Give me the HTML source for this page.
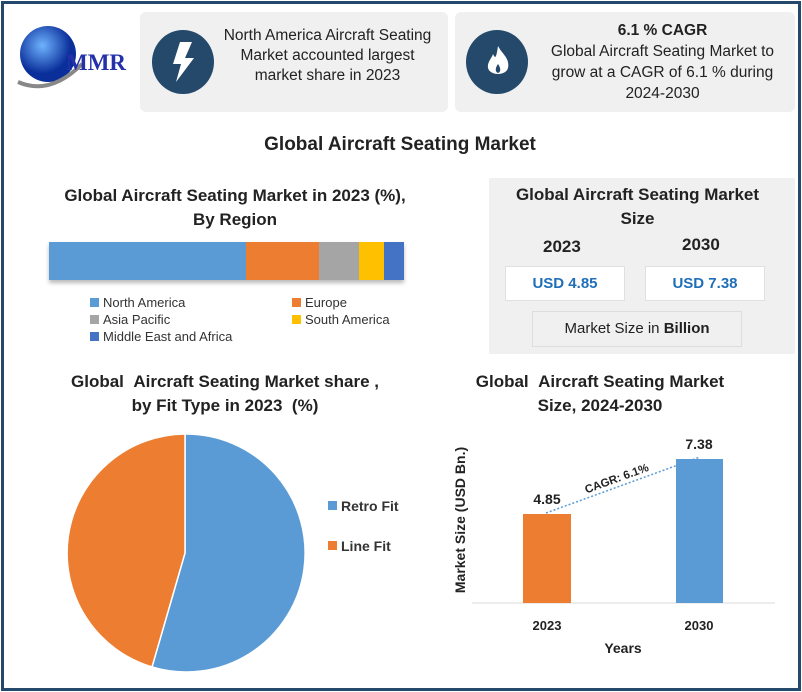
<!DOCTYPE html>
<html><head><meta charset="utf-8"><style>
*{margin:0;padding:0;box-sizing:border-box}
body{width:802px;height:692px;background:#fff;font-family:"Liberation Sans",sans-serif;position:relative;overflow:hidden}
.frame{position:absolute;left:1px;top:1px;width:800px;height:690px;border:3px solid #24496b}
.a{position:absolute}
.c{text-align:center}
.b{font-weight:bold}
.card{position:absolute;background:#f0f0f0;border-radius:6px}
.circ{position:absolute;width:48px;height:64px;border-radius:50%;background:#24496b}
.lg{position:absolute;font-size:13px;color:#333}
.lg i{display:inline-block;width:9px;height:9px;margin-right:4px;vertical-align:0}
.box{position:absolute;background:#fff;border:1px solid #e0e0e0;color:#1f6fb8;font-weight:bold;font-size:15px;text-align:center;line-height:34px}
</style></head><body>
<div class="frame"></div>
<svg class="a" style="left:10px;top:14px" width="125" height="90">
<defs><radialGradient id="g" cx="40%" cy="35%"><stop offset="0" stop-color="#6fb3ff"/><stop offset="1" stop-color="#0a2f9a"/></radialGradient></defs>
<circle cx="38" cy="40" r="28" fill="url(#g)"/>
<path d="M8 68 Q40 82 72 50" stroke="#888" stroke-width="4" fill="none"/>
<text x="56" y="56" font-family="Liberation Serif" font-weight="bold" font-size="23" fill="#2431a8">MMR</text>
</svg>
<div class="card" style="left:140px;top:12px;width:308px;height:100px"></div>
<div class="circ" style="left:152px;top:30px;width:62px;height:64px"></div>
<svg class="a" style="left:166px;top:40px" width="34" height="44"><path d="M14 2 L26 2 L19 18 L28 18 L10 42 L15 24 L7 24 Z" fill="#fff"/></svg>
<div class="a c" style="left:215px;top:26px;width:225px;font-size:15.5px;line-height:20px;color:#222">North America Aircraft Seating Market accounted largest market share in 2023</div>
<div class="card" style="left:455px;top:12px;width:340px;height:100px"></div>
<div class="circ" style="left:466px;top:30px;width:62px;height:64px"></div>
<svg class="a" style="left:484px;top:44px" width="28" height="36"><path d="M14 2 C18 10 26 14 24 24 C22 32 6 32 4 24 C3 18 8 14 9 10 C11 14 12 16 14 2 Z M14 20 C11 24 11 28 14 29 C17 28 17 24 14 20Z" fill="#fff" fill-rule="evenodd"/></svg>
<div class="a c" style="left:535px;top:20px;width:255px;font-size:15.5px;line-height:21px;color:#222"><b>6.1 % CAGR</b><br>Global Aircraft Seating Market to grow at a CAGR of 6.1 % during 2024-2030</div>

<div class="a c b" style="left:200px;top:134px;width:400px;font-size:19px;color:#222">Global Aircraft Seating Market</div>
<div class="a c b" style="left:60px;top:184px;width:350px;font-size:17px;line-height:24px;color:#222">Global Aircraft Seating Market in 2023 (%),<br>By Region</div>
<div class="a" style="left:49px;top:242px;height:38px;width:355px;display:flex;box-shadow:0 3px 4px #bbb">
<div style="width:197px;background:#5b9bd5"></div><div style="width:73px;background:#ed7d31"></div><div style="width:40px;background:#a5a5a5"></div><div style="width:25px;background:#ffc000"></div><div style="width:20px;background:#4472c4"></div></div>
<div class="lg" style="left:90px;top:295px"><i style="background:#5b9bd5"></i>North America</div>
<div class="lg" style="left:292px;top:295px"><i style="background:#ed7d31"></i>Europe</div>
<div class="lg" style="left:90px;top:312px"><i style="background:#a5a5a5"></i>Asia Pacific</div>
<div class="lg" style="left:292px;top:312px"><i style="background:#ffc000"></i>South America</div>
<div class="lg" style="left:90px;top:329px"><i style="background:#4472c4"></i>Middle East and Africa</div>

<div class="card" style="left:489px;top:178px;width:306px;height:176px;border-radius:2px"></div>
<div class="a c b" style="left:505px;top:183px;width:265px;font-size:17px;line-height:24px;color:#222">Global Aircraft Seating Market Size</div>
<div class="a b" style="left:543px;top:237px;font-size:17px;color:#222">2023</div>
<div class="a b" style="left:682px;top:235px;font-size:17px;color:#222">2030</div>
<div class="box" style="left:505px;top:266px;width:120px;height:35px">USD 4.85</div>
<div class="box" style="left:645px;top:266px;width:120px;height:35px">USD 7.38</div>
<div class="a c" style="left:532px;top:311px;width:210px;height:36px;border:1px solid #ddd;background:#f0f0f0;line-height:34px;font-size:15px;color:#222">Market Size in <b>Billion</b></div>

<div class="a c b" style="left:45px;top:370px;width:360px;font-size:17px;line-height:24px;color:#222">Global &nbsp;Aircraft Seating Market share ,<br>by Fit Type in 2023 &nbsp;(%)</div>
<svg class="a" style="left:0;top:420px" width="440" height="270">
<path d="M185 133 L185 14 A119 119 0 1 1 152 247 Z" fill="#5b9bd5" stroke="#fff" stroke-width="1.5"/>
<path d="M185 133 L152 247 A119 119 0 0 1 185 14 Z" fill="#ed7d31" stroke="#fff" stroke-width="1.5"/>
<rect x="328" y="81" width="9" height="9" fill="#5b9bd5"/><text x="341" y="91" font-size="14" font-weight="bold" fill="#333">Retro Fit</text>
<rect x="328" y="121" width="9" height="9" fill="#ed7d31"/><text x="341" y="131" font-size="14" font-weight="bold" fill="#333">Line Fit</text>
</svg>

<div class="a c b" style="left:445px;top:370px;width:310px;font-size:17px;line-height:24px;color:#222">Global &nbsp;Aircraft Seating Market<br>Size, 2024-2030</div>
<svg class="a" style="left:440px;top:420px" width="350" height="250" font-family="Liberation Sans" font-weight="bold" fill="#222">
<line x1="32" y1="183" x2="335" y2="183" stroke="#d9d9d9"/>
<rect x="83" y="94" width="48" height="89" fill="#ed7d31"/>
<rect x="236" y="39" width="47" height="144" fill="#5b9bd5"/>
<line x1="106" y1="93" x2="260" y2="37" stroke="#5b9bd5" stroke-width="1.5" stroke-dasharray="2,2"/>
<text x="107" y="84" font-size="14" text-anchor="middle">4.85</text>
<text x="259" y="29" font-size="14" text-anchor="middle">7.38</text>
<text x="178" y="62" font-size="11.5" text-anchor="middle" transform="rotate(-20 178 62)">CAGR: 6.1%</text>
<text x="107" y="210" font-size="13" text-anchor="middle">2023</text>
<text x="259" y="210" font-size="13" text-anchor="middle">2030</text>
<text x="183" y="233" font-size="14" text-anchor="middle">Years</text>
<text x="0" y="0" font-size="14" text-anchor="middle" transform="translate(25 100) rotate(-90)">Market Size (USD Bn.)</text>
</svg>
</body></html>
